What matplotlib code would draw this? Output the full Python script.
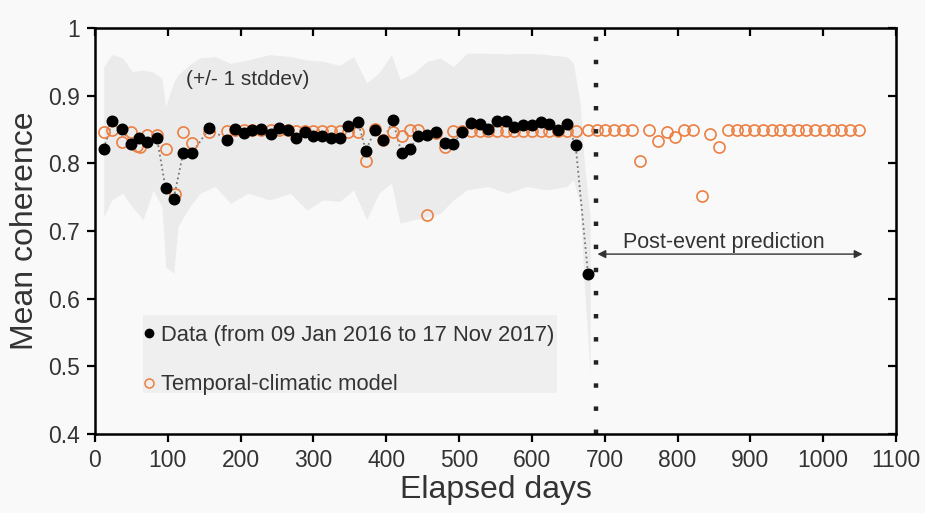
import matplotlib
matplotlib.use("Agg")
import matplotlib.pyplot as plt
from matplotlib.lines import Line2D
from matplotlib.patches import Rectangle

plt.rcParams['font.family'] = ['Liberation Sans', 'DejaVu Sans']

# observed mean coherence (09 Jan 2016 - 17 Nov 2017)
data_days = [12, 24, 37, 49, 61, 72, 85, 97, 108, 121, 133, 157, 181, 192, 204, 216,
             228, 241, 253, 265, 276, 288, 300, 312, 324, 337, 348, 361, 372, 384, 396,
             409, 421, 432, 444, 456, 468, 480, 492, 504, 516, 528, 540, 552, 564, 576,
             588, 600, 612, 624, 636, 648, 660, 677]
data_coh = [0.822, 0.863, 0.851, 0.829, 0.837, 0.832, 0.838, 0.763, 0.748, 0.815, 0.815,
            0.852, 0.835, 0.851, 0.845, 0.849, 0.851, 0.843, 0.852, 0.849, 0.838, 0.846,
            0.840, 0.840, 0.838, 0.838, 0.856, 0.862, 0.819, 0.849, 0.834, 0.864, 0.815,
            0.821, 0.841, 0.842, 0.847, 0.831, 0.829, 0.847, 0.860, 0.858, 0.851, 0.863,
            0.863, 0.854, 0.857, 0.857, 0.861, 0.858, 0.849, 0.858, 0.827, 0.637]

# temporal-climatic model
model_days = [12, 24, 37, 49, 58, 62, 72, 85, 97, 110, 121, 133, 157, 181, 192, 204, 216,
              228, 241, 253, 265, 276, 288, 300, 312, 324, 337, 348, 361, 372, 384, 396,
              409, 421, 432, 444, 456, 468, 480, 492, 504, 516, 528, 540, 552, 564, 576,
              588, 600, 612, 624, 636, 648, 660, 677, 689, 701, 713, 725, 737, 749, 761,
              773, 785, 797, 809, 821, 833, 845, 857, 869, 881, 893, 905, 917, 929, 941,
              953, 965, 977, 989, 1001, 1013, 1025, 1037, 1049]
model_coh = [0.846, 0.849, 0.832, 0.846, 0.826, 0.824, 0.842, 0.842, 0.821, 0.755, 0.846,
             0.830, 0.847, 0.848, 0.850, 0.849, 0.849, 0.850, 0.849, 0.849, 0.849, 0.848,
             0.848, 0.848, 0.848, 0.848, 0.848, 0.847, 0.847, 0.803, 0.851, 0.835, 0.846,
             0.840, 0.850, 0.850, 0.724, 0.845, 0.824, 0.848, 0.848, 0.848, 0.848, 0.848,
             0.848, 0.848, 0.848, 0.848, 0.848, 0.848, 0.848, 0.848, 0.848, 0.848, 0.849,
             0.849, 0.849, 0.849, 0.849, 0.849, 0.804, 0.849, 0.833, 0.846, 0.839, 0.849,
             0.849, 0.752, 0.843, 0.825, 0.849, 0.849, 0.849, 0.849, 0.849, 0.849, 0.849,
             0.849, 0.849, 0.849, 0.849, 0.849, 0.849, 0.849, 0.849, 0.849]

# +/- 1 stddev envelope
band_days = [12, 23, 38, 51, 66, 80, 92, 97, 108, 114, 130, 144, 165, 186, 210, 240, 268,
             291, 313, 336, 355, 373, 390, 407, 419, 438, 456, 474, 492, 511, 540, 566,
             593, 620, 648, 657, 666, 672, 680]
band_hi = [0.943, 0.961, 0.956, 0.936, 0.938, 0.935, 0.926, 0.884, 0.920, 0.931, 0.946,
           0.956, 0.958, 0.948, 0.953, 0.961, 0.958, 0.953, 0.951, 0.945, 0.958, 0.919,
           0.934, 0.961, 0.924, 0.934, 0.951, 0.956, 0.943, 0.963, 0.963, 0.962, 0.963,
           0.961, 0.958, 0.948, 0.890, 0.800, 0.720]
band_lo = [0.721, 0.746, 0.756, 0.736, 0.717, 0.761, 0.736, 0.647, 0.638, 0.707, 0.736,
           0.756, 0.766, 0.741, 0.756, 0.746, 0.756, 0.731, 0.746, 0.744, 0.761, 0.717,
           0.756, 0.771, 0.712, 0.717, 0.721, 0.726, 0.746, 0.761, 0.766, 0.756, 0.766,
           0.761, 0.766, 0.776, 0.740, 0.620, 0.490]

event_day = 688.5
orange = '#ec7f42'
bg = '#f9f9f9'
txt = '#333333'

fig = plt.figure(figsize=(9.25, 5.13), dpi=100, facecolor=bg)
ax = fig.add_axes([0.1027, 0.154, 0.866, 0.791], facecolor=bg)

ax.fill_between(band_days, band_lo, band_hi, color='#ebebeb', lw=0, zorder=1)
ax.plot(data_days, data_coh, ls=':', color='#777777', lw=1.3, zorder=2)
ax.plot(model_days, model_coh, ls='none', marker='o', ms=8, mfc='none',
        mec=orange, mew=1.2, zorder=3)
ax.plot(data_days, data_coh, ls='none', marker='o', ms=7.6, color='black', zorder=4)

ax.axvline(event_day, color='#222222', lw=3.2, ls=(0, (1, 4.2)), zorder=5)

ax.annotate('', xy=(690, 0.666), xytext=(1054, 0.666),
            arrowprops=dict(arrowstyle='<|-|>', color='#333333', lw=1,
                            mutation_scale=12, shrinkA=0, shrinkB=0))
ax.text(864, 0.683, 'Post-event prediction', fontsize=15.5, color=txt,
        ha='center', va='center')
ax.text(210, 0.924, '(+/- 1 stddev)', fontsize=15, color=txt,
        ha='center', va='center')

# legend box
ax.add_patch(Rectangle((0.06, 0.101), 0.517, 0.192, transform=ax.transAxes,
                       facecolor='#efefef', edgecolor='none', zorder=1))
handles = [Line2D([], [], ls='none', marker='o', ms=6, color='black'),
           Line2D([], [], ls='none', marker='o', ms=6.5, mfc='none', mec=orange, mew=1.1)]
ax.legend(handles, ['Data (from 09 Jan 2016 to 17 Nov 2017)', 'Temporal-climatic model'],
          loc='upper left', bbox_to_anchor=(0.036, 0.318), frameon=False,
          fontsize=15.8, handlelength=0.5, handletextpad=0.3, labelspacing=1.3,
          labelcolor=txt)

ax.set_xlim(0, 1100)
ax.set_ylim(0.4, 1.0)
ax.set_xticks(range(0, 1101, 100))
ax.set_yticks([0.4, 0.5, 0.6, 0.7, 0.8, 0.9, 1.0])
ax.set_yticklabels(['0.4', '0.5', '0.6', '0.7', '0.8', '0.9', '1'])
ax.tick_params(direction='out', length=6, width=1.6, labelsize=16.5, colors='black',
               labelcolor=txt, pad=5)
for s in ax.spines.values():
    s.set_linewidth(1.8)
    s.set_zorder(6)

top = ax.secondary_xaxis('top')
top.set_xticks(range(0, 1101, 100))
top.tick_params(direction='in', length=6, width=1.6, labeltop=False)
right = ax.secondary_yaxis('right')
right.set_yticks([0.4, 0.5, 0.6, 0.7, 0.8, 0.9, 1.0])
right.tick_params(direction='in', length=6, width=1.6, labelright=False)

ax.set_xlabel('Elapsed days', fontsize=23, color=txt, labelpad=2)
ax.set_ylabel('Mean coherence', fontsize=23, color=txt, labelpad=6)

fig.savefig('out.png', dpi=100, facecolor=bg)
